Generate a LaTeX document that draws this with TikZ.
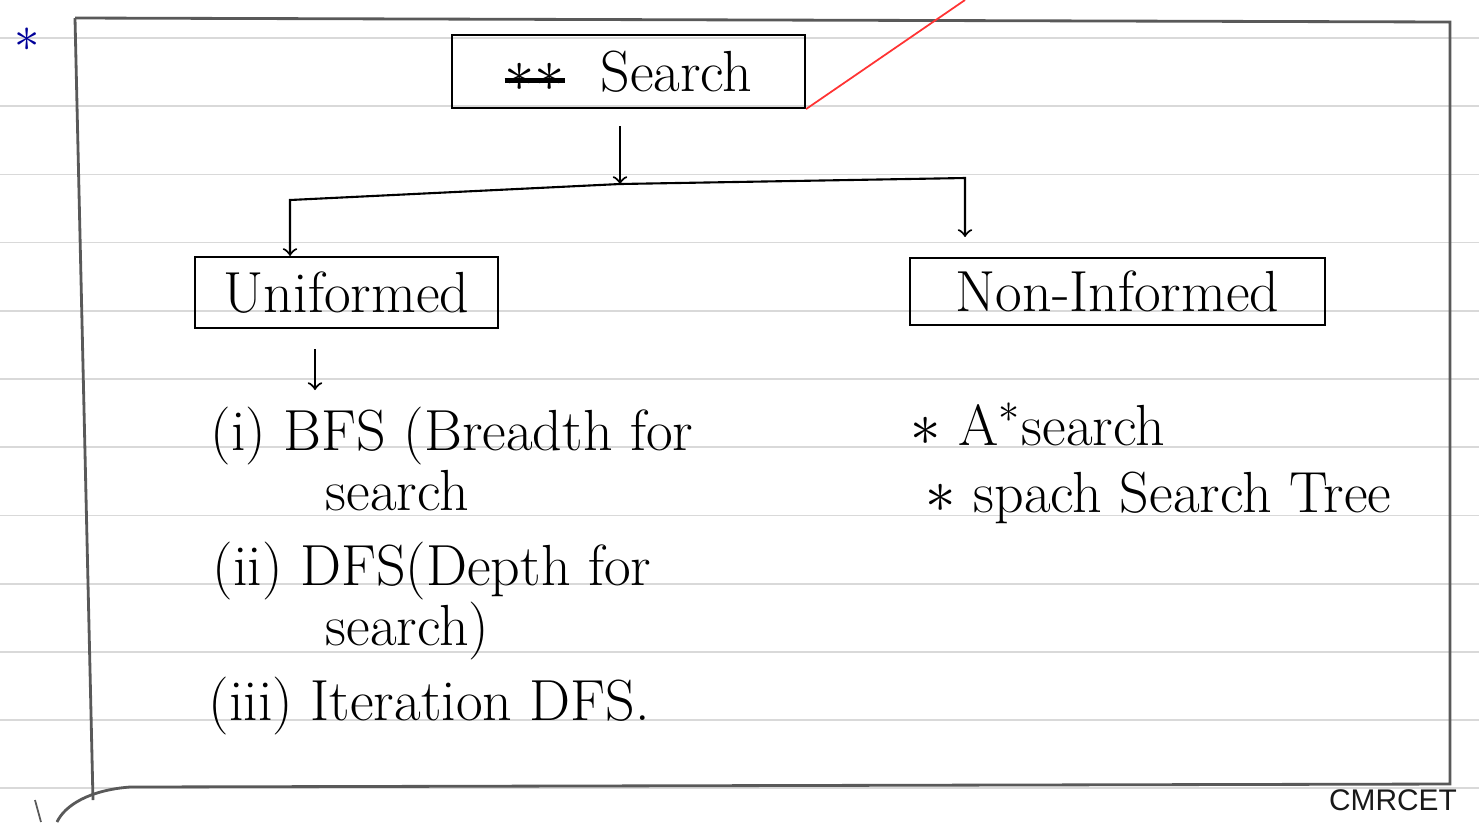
\documentclass[tikz,border=0pt]{standalone}
\usepackage{fontspec}
\usepackage{tikz}
\newfontfamily\stampfont{Liberation Sans}
\newcommand{\scratched}[1]{\rlap{#1}\rule[0.35ex]{1.05em}{1.4pt}}

\tikzset{
    hand/.style={font=\fontsize{16.5}{19}\selectfont},
    box/.style={draw, line width=.6pt, hand, inner sep=0pt},
    link/.style={line width=.6pt, ->},
    rule/.style={gray!30, line width=.5pt},
    frame/.style={gray!70!black, line width=.8pt}
}

\begin{document}
\begin{tikzpicture}
    \useasboundingbox (0,0) rectangle (14.79,-8.22);
    % Ruled paper
    \foreach \i in {0,...,11} {
        \draw[rule] (0,-0.38-0.682*\i) -- (14.79,-0.38-0.682*\i);
    }
    % Page frame
    \draw[frame] (0.75,-0.18) -- (14.5,-0.22) -- (14.5,-7.84) -- (1.3,-7.87)
        .. controls (0.9,-7.9) and (0.65,-8.05) .. (0.57,-8.22);
    \draw[frame] (0.75,-0.18) -- (0.93,-8.0);
    \draw[gray!70!black, line width=.5pt] (0.35,-8.0) .. controls (0.38,-8.12) .. (0.41,-8.22);
    \node[text=blue!60!black, font=\fontsize{15}{15}\selectfont, inner sep=0pt] (Mark) at (0.27,-0.4) {$\ast$};
    % Boxes
    \node[box, minimum width=3.53cm, minimum height=0.73cm] (Search) at (6.285,-0.715) {\scratched{$\ast\ast$}\ \ Search};
    \node[box, minimum width=3.03cm, minimum height=0.71cm] (Uniformed) at (3.465,-2.925) {Uniformed};
    \node[box, minimum width=4.15cm, minimum height=0.67cm] (NonInformed) at (11.175,-2.915) {Non-Informed};
    % Red margin stroke
    \coordinate (RedEnd) at (9.65,0);
    \draw[red!80, line width=.5pt] (Search.south east) -- (RedEnd);
    % Arrows
    \coordinate (Fork) at (6.2,-1.84);
    \coordinate (ForkL) at (2.9,-2.0);
    \coordinate (ForkR) at (9.65,-1.78);
    \coordinate (ListTop) at (3.15,-3.9);
    \draw[link, shorten <=0.17cm] (Search.south -| Fork) -- (Fork);
    \draw[link] (Fork) -- (ForkL) -- (ForkL |- Uniformed.north);
    \draw[link, shorten >=0.2cm] (Fork) -- (ForkR) -- (ForkR |- NonInformed.north);
    \draw[link, shorten <=0.2cm] (ListTop |- Uniformed.south) -- (ListTop);
    % Uninformed list
    \foreach \txt/\x/\y/\i in {(i) BFS (Breadth for/2.1/4.5/1,
                               search/3.25/5.1/2,
                               (ii) DFS(Depth for/2.12/5.85/3,
                               search)/3.25/6.45/4,
                               (iii) Iteration DFS./2.08/7.2/5} {
        \node[hand, anchor=base west, inner sep=0pt] (Left-\i) at (\x,-\y) {\txt};
    }
    % Informed list
    \foreach \txt/\x/\y/\i in {$\ast$ A$^{\ast}$search/9.1/4.45/1,
                               $\ast$ spach Search Tree/9.25/5.12/2} {
        \node[hand, anchor=base west, inner sep=0pt] (Right-\i) at (\x,-\y) {\txt};
    }
    \node[font=\stampfont\fontsize{8.5}{9}\selectfont, text=gray!20!black] (Stamp) at (13.93,-8.0) {CMRCET};
\end{tikzpicture}
\end{document}
